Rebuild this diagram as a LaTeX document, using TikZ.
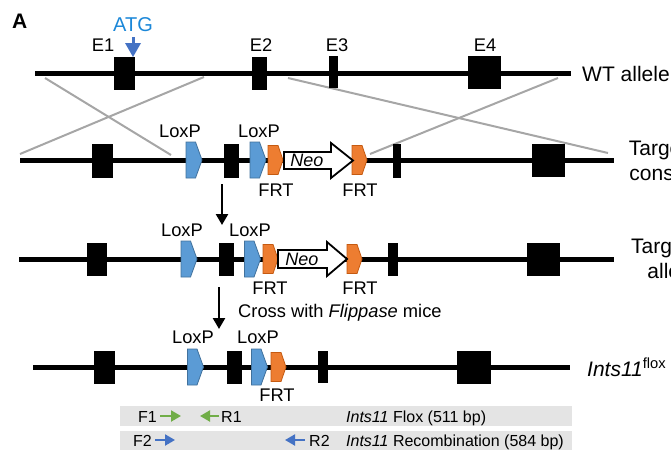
\documentclass[tikz,border=0pt]{standalone}
\usepackage{fontspec}
\setmainfont{Liberation Sans}
\usetikzlibrary{arrows.meta}
\definecolor{loxpc}{HTML}{5B9BD5}
\definecolor{loxpd}{HTML}{41719C}
\definecolor{frtc}{HTML}{ED7D31}
\definecolor{frtd}{HTML}{C55A11}
\definecolor{crossc}{HTML}{A6A6A6}
\definecolor{barc}{HTML}{E4E4E4}
\definecolor{atgc}{HTML}{1B87D8}
\definecolor{atgarrow}{HTML}{4472C4}
\definecolor{primg}{HTML}{70AD47}
\definecolor{primb}{HTML}{4472C4}
\begin{document}
\begin{tikzpicture}[x=1pt,y=-1pt,
  dna/.style={line width=5pt},
  exon/.style={fill=black},
  cross/.style={line width=2pt, crossc},
  lbl/.style={font=\fontsize{18.3}{20}\selectfont, inner sep=0pt},
  side/.style={font=\fontsize{21}{25}\selectfont, inner sep=0pt, align=center},
  bartxt/.style={font=\fontsize{16}{18}\selectfont, inner sep=0pt},
  neobox/.style={fill=white, draw=black, line width=1.8pt, line join=miter},
  barbox/.style={fill=barc},
  loxp/.pic={\path[fill=loxpc,draw=loxpd,line width=0.8pt] (-8,-18)--(1.5,-18)--(8,0)--(1.5,18)--(-8,18)--cycle;},
  frt/.pic={\path[fill=frtc,draw=frtd,line width=0.8pt] (-7.5,-14.5)--(2.5,-14.5)--(7.5,0)--(2.5,14.5)--(-7.5,14.5)--cycle;},
  downarrow/.style={line width=2.5pt,-{Triangle[length=11pt,width=12pt]}},
  primer/.style={line width=2pt,-{Triangle[length=10pt,width=11pt]}},
]
\useasboundingbox (0,0) rectangle (671,450);

% panel letter
\node[font=\fontsize{21}{24}\selectfont\bfseries, inner sep=0pt, anchor=base west] (panelA) at (12,28) {A};

% ---------------- crossover lines ----------------
\coordinate (c1a) at (45,78);  \coordinate (c1b) at (171,155);
\coordinate (c2a) at (204,77); \coordinate (c2b) at (20,154);
\coordinate (c3a) at (288,78); \coordinate (c3b) at (608,153);
\coordinate (c4a) at (558,78); \coordinate (c4b) at (370,154);
\draw[cross] (c1a) -- (c1b);
\draw[cross] (c2a) -- (c2b);
\draw[cross] (c3a) -- (c3b);
\draw[cross] (c4a) -- (c4b);

% ---------------- row 1: WT allele ----------------
\coordinate (r1s) at (35,73); \coordinate (r1e) at (571,73);
\draw[dna] (r1s) -- (r1e);
\fill[exon] (114,57) rectangle (135,90);
\fill[exon] (252,57) rectangle (267,90);
\fill[exon] (329,56) rectangle (338,88);
\fill[exon] (468,56) rectangle (501,89);
\node[lbl] (e1) at (103,45) {E1};
\node[lbl] (e2) at (261,45) {E2};
\node[lbl] (e3) at (337,45) {E3};
\node[lbl] (e4) at (485,45) {E4};
\node[font=\fontsize{20}{22}\selectfont, text=atgc, inner sep=0pt] (atg) at (133,25) {ATG};
\fill[atgarrow] (132,37) rectangle (134.5,44);
\fill[atgarrow] (125,43) -- (141,43) -- (133,57) -- cycle;
\node[side, anchor=base west] (wt) at (582,81) {WT allele};

% ---------------- row 2: Targeting construct ----------------
\coordinate (r2s) at (20,160); \coordinate (r2e) at (614,160);
\draw[dna] (r2s) -- (r2e);
\fill[exon] (92,144) rectangle (113,178);
\fill[exon] (224,144) rectangle (239,178);
\fill[exon] (393,144) rectangle (401,178);
\fill[exon] (532,144) rectangle (565,177);
\pic at (194,160) {loxp};
\pic at (258,160) {loxp};
\pic at (275.5,160) {frt};
\pic at (359.5,160) {frt};
\path[neobox] (284,152) -- (331,152) -- (331,143) -- (353,160.5) -- (331,178) -- (331,169) -- (284,169) -- cycle;
\node[font=\fontsize{18}{20}\selectfont\itshape, inner sep=0pt] (neo1) at (307,160.5) {Neo};
\node[lbl] (lp21) at (180,131) {LoxP};
\node[lbl] (lp22) at (259,131) {LoxP};
\node[lbl] (frt21) at (276,190.5) {FRT};
\node[lbl] (frt22) at (360,190.5) {FRT};
\node[side] (tc) at (672,160) {Targeting\\construct};

% arrow 1
\coordinate (d1s) at (222,184); \coordinate (d1e) at (222,225);
\draw[downarrow] (d1s) -- (d1e);

% ---------------- row 3: Targeted allele ----------------
\coordinate (r3s) at (19,259); \coordinate (r3e) at (614,259);
\draw[dna] (r3s) -- (r3e);
\fill[exon] (87,243) rectangle (107,276);
\fill[exon] (219,243) rectangle (234,276);
\fill[exon] (388,243) rectangle (398,276);
\fill[exon] (527,243) rectangle (560,276);
\pic at (189,259) {loxp};
\pic at (252.5,259) {loxp};
\pic at (270.5,259) {frt};
\pic at (354.5,259) {frt};
\path[neobox] (278,250) -- (327,250) -- (327,242) -- (347,259) -- (327,276) -- (327,268) -- (278,268) -- cycle;
\node[font=\fontsize{18}{20}\selectfont\itshape, inner sep=0pt] (neo2) at (302,259) {Neo};
\node[lbl] (lp31) at (182,230) {LoxP};
\node[lbl] (lp32) at (250,230) {LoxP};
\node[lbl] (frt31) at (270,288) {FRT};
\node[lbl] (frt32) at (360,288) {FRT};
\node[side] (ta) at (672,258.5) {Targeted\\allele};

% arrow 2
\coordinate (d2s) at (219,287); \coordinate (d2e) at (219,329);
\draw[downarrow] (d2s) -- (d2e);
\node[lbl, anchor=base west] (cross) at (238,317) {Cross with \textit{Flippase} mice};

% ---------------- row 4: Ints11 flox ----------------
\coordinate (r4s) at (33,367); \coordinate (r4e) at (570,367);
\draw[dna] (r4s) -- (r4e);
\fill[exon] (94,351) rectangle (115,384);
\fill[exon] (227,351) rectangle (242,384);
\fill[exon] (318,351) rectangle (328,383);
\fill[exon] (457,351) rectangle (491,384);
\pic at (195.5,367) {loxp};
\pic at (259.5,367) {loxp};
\pic at (278.5,367) {frt};
\node[lbl] (lp41) at (193,337) {LoxP};
\node[lbl] (lp42) at (258,337) {LoxP};
\node[lbl] (frt41) at (277,395) {FRT};
\node[side, anchor=base west] (flox) at (587,376) {\textit{Ints11}\textsuperscript{flox}};

% ---------------- PCR bars ----------------
\fill[barbox] (120,406) rectangle (572,426);
\fill[barbox] (120,431) rectangle (572,450);
\node[bartxt, anchor=base west] (f1) at (138,422) {F1};
\coordinate (f1s) at (160,416); \coordinate (f1e) at (181,416);
\draw[primer, primg] (f1s) -- (f1e);
\coordinate (r1as) at (219,416); \coordinate (r1ae) at (200,416);
\draw[primer, primg] (r1as) -- (r1ae);
\node[bartxt, anchor=base west] (r1) at (221,422) {R1};
\node[bartxt, anchor=base west] (flx) at (346,422) {\textit{Ints11} Flox (511 bp)};

\node[bartxt, anchor=base west] (f2) at (133,446) {F2};
\coordinate (f2s) at (155,440); \coordinate (f2e) at (175,440);
\draw[primer, primb] (f2s) -- (f2e);
\coordinate (r2as) at (305,440); \coordinate (r2ae) at (285,440);
\draw[primer, primb] (r2as) -- (r2ae);
\node[bartxt, anchor=base west] (r2) at (309,446) {R2};
\node[bartxt, anchor=base west] (rec) at (346,446) {\textit{Ints11} Recombination (584 bp)};
\end{tikzpicture}
\end{document}
